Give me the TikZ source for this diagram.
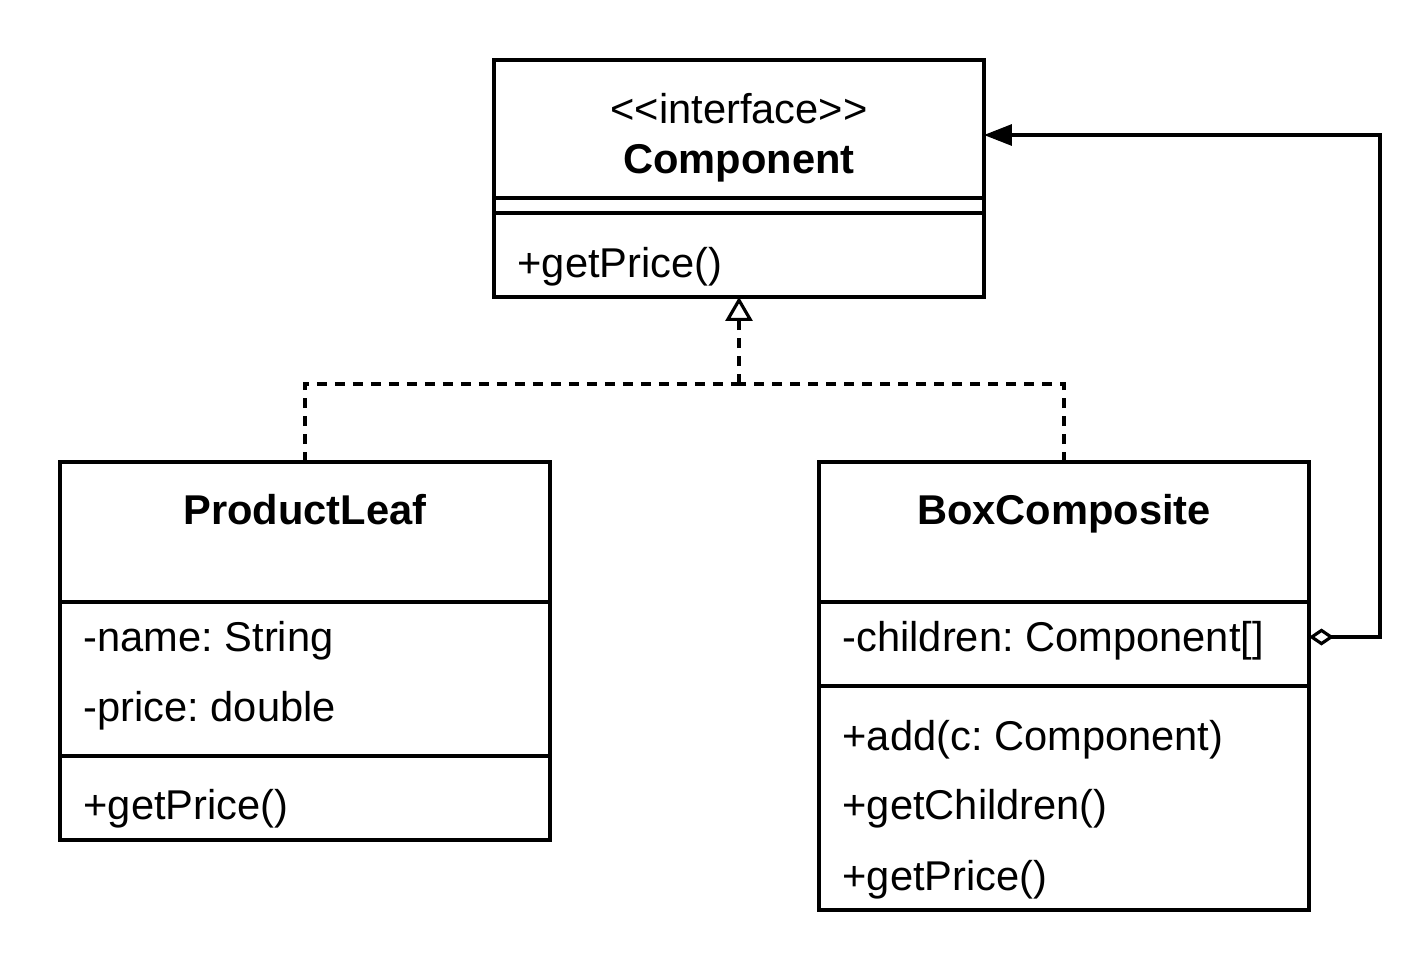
\documentclass[tikz,border=0pt]{standalone}
\usepackage{fontspec}
\setmainfont{Liberation Sans}
\usetikzlibrary{arrows.meta}
\frenchspacing

\begin{document}
\begin{tikzpicture}[x=0.02cm, y=-0.02cm, line width=1.8pt,
    every node/.style={font=\fontsize{23.7pt}{28pt}\selectfont},
    umlbox/.style={draw, rectangle, outer sep=0pt, minimum width=9.8cm},
    classname/.style={anchor=base, inner sep=0pt, font=\fontsize{23.7pt}{28pt}\selectfont\bfseries},
    member/.style={anchor=base west, inner sep=0pt},
    realize/.style={dash pattern=on 0.2cm off 0.16cm}]
  \useasboundingbox (0,0) rectangle (1426,968);

  \node[umlbox, minimum height=4.74cm] (comp) at (739,178.5) {};
  \node[umlbox, minimum height=7.56cm] (leaf) at (305,651) {};
  \node[umlbox, minimum height=8.96cm] (boxc) at (1064,686) {};

  % compartments
  \draw (comp.west |- 0,198) -- (comp.east |- 0,198);
  \draw (comp.west |- 0,213) -- (comp.east |- 0,213);
  \draw (leaf.west |- 0,602) -- (leaf.east |- 0,602);
  \draw (leaf.west |- 0,756) -- (leaf.east |- 0,756);
  \draw (boxc.west |- 0,602) -- (boxc.east |- 0,602);
  \draw (boxc.west |- 0,686) -- (boxc.east |- 0,686);

  % texts
  \node[anchor=base, inner sep=0pt] (stereo) at (739,123) {<\kern0pt<interface>\kern0pt>};
  \node[classname] (compname) at (739,173) {Component};
  \node[member] (compop) at (516,277) {+getPrice()};

  \node[classname] (leafname) at (305,524) {ProductLeaf};
  \node[member] (leafattr1) at (82,651) {-name: String};
  \node[member] (leafattr2) at (82,721) {-price: double};
  \node[member] (leafop) at (82,819) {+getPrice()};

  \node[classname] (boxcname) at (1064,524) {BoxComposite};
  \node[member] (boxcattr) at (841,651) {-children: Component[]};
  \node[member] (boxcop1) at (841,750) {+add(c: Component)};
  \node[member] (boxcop2) at (841,819) {+getChildren()};
  \node[member] (boxcop3) at (841,890) {+getPrice()};

  % realization
  \coordinate (joint) at (comp.south |- 0,384);
  \draw[realize] (leaf.north) |- (joint);
  \draw[realize] (boxc.north) |- (joint);
  \draw[realize, -{Triangle[open, length=0.48cm, width=0.54cm]}] (joint) -- (comp.south);

  % aggregation
  \draw[{Diamond[open, length=0.5cm, width=0.34cm]}-{Triangle[length=0.56cm, width=0.42cm]}]
    (boxc.east |- 0,637) -- ++(71,0) |- (comp.east |- 0,135);
\end{tikzpicture}
\end{document}
